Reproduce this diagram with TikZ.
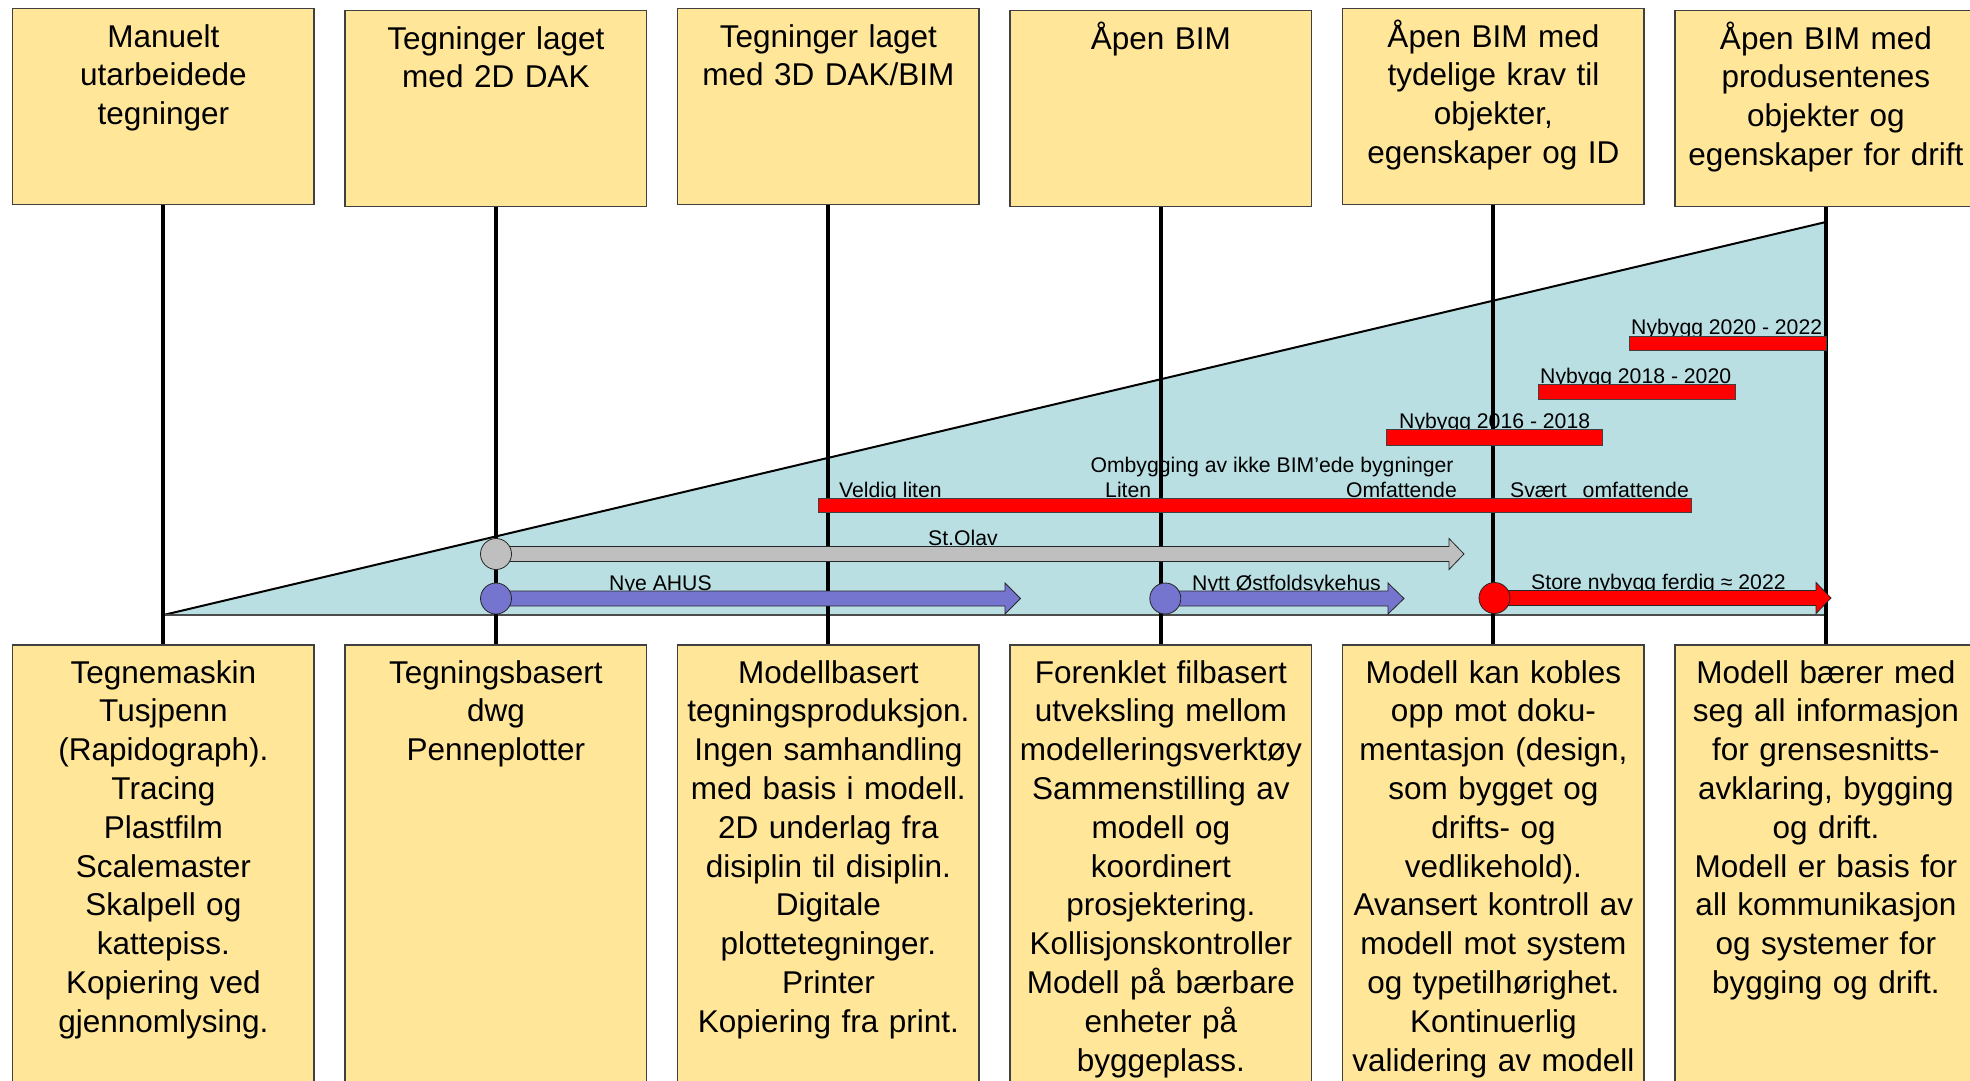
\documentclass[tikz,border=0pt]{standalone}
\usepackage{fontspec}
\setmainfont{Liberation Sans}
\definecolor{boxfill}{HTML}{FFE699}
\definecolor{boxline}{HTML}{404040}
\definecolor{trifill}{HTML}{BADFE3}
\definecolor{bluearr}{HTML}{7575CF}
\definecolor{grayarr}{HTML}{BFBFBF}
\newcommand{\blockarr}[5]{%
  \filldraw[fill=#1, draw=black!85, line width=0.8pt]
    (#2,#3-7.5) -- (#4,#3-7.5) -- (#4,#3-15.5) -- (#5,#3) -- (#4,#3+15.5) -- (#4,#3+7.5) -- (#2,#3+7.5) -- cycle;}
\begin{document}
\begin{tikzpicture}[x=1pt,y=-1pt,
  topbox/.style={draw=boxline, fill=boxfill, line width=1.5pt, minimum width=301.5pt, minimum height=196pt, inner sep=0pt},
  botbox/.style={draw=boxline, fill=boxfill, line width=1.5pt, minimum width=301.5pt, minimum height=500pt, inner sep=0pt},
  bigtxt/.style={font=\fontsize{31.5}{38.8}\selectfont, text width=300pt, align=center, inner sep=0pt, anchor=base},
  lbl/.style={font=\fontsize{21.2}{24}\selectfont, inner sep=0pt, anchor=base west},
  vline/.style={line width=4pt},
  bar/.style={fill=red, draw=black!75, line width=0.8pt},
  circ/.style={circle, minimum size=31pt, inner sep=0pt, draw=black!85, line width=0.8pt}]
\useasboundingbox (0,0) rectangle (1970,1080);
\clip (0,0) rectangle (1970,1080);

% top boxes
\node[topbox] (t1) at (163.4,106.5) {};
\node[topbox] (t2) at (495.9,108.5) {};
\node[topbox] (t3) at (828.4,106.5) {};
\node[topbox] (t4) at (1160.9,108.5) {};
\node[topbox] (t5) at (1493.4,106.5) {};
\node[topbox] (t6) at (1825.9,108.5) {};
% bottom boxes
\node[botbox] (b1) at (163.4,895) {};
\node[botbox] (b2) at (495.9,895) {};
\node[botbox] (b3) at (828.4,895) {};
\node[botbox] (b4) at (1160.9,895) {};
\node[botbox] (b5) at (1493.4,895) {};
\node[botbox] (b6) at (1825.9,895) {};

% top texts
\node[bigtxt] (tt1) at (163.4,47) {Manuelt\\utarbeidede\\tegninger};
\node[bigtxt] (tt2) at (495.9,49) {Tegninger laget\\med 2D DAK};
\node[bigtxt] (tt3) at (828.4,47) {Tegninger laget\\med 3D DAK/BIM};
\node[bigtxt] (tt4) at (1160.9,49) {Åpen BIM};
\node[bigtxt] (tt5) at (1493.4,47) {Åpen BIM med\\tydelige krav til\\objekter,\\egenskaper og ID};
\node[bigtxt] (tt6) at (1825.9,49) {Åpen BIM med\\produsentenes\\objekter og\\egenskaper for drift};

% bottom texts
\node[bigtxt] (bt1) at (163.4,683) {Tegnemaskin\\Tusjpenn\\(Rapidograph).\\Tracing\\Plastfilm\\Scalemaster\\Skalpell og\\kattepiss.\\Kopiering ved\\gjennomlysing.};
\node[bigtxt] (bt2) at (495.9,683) {Tegningsbasert\\dwg\\Penneplotter};
\node[bigtxt] (bt3) at (828.4,683) {Modellbasert\\tegningsproduksjon.\\Ingen samhandling\\med basis i modell.\\2D underlag fra\\disiplin til disiplin.\\Digitale\\plottetegninger.\\Printer\\Kopiering fra print.};
\node[bigtxt] (bt4) at (1160.9,683) {Forenklet filbasert\\utveksling mellom\\modelleringsverktøy\\Sammenstilling av\\modell og\\koordinert\\prosjektering.\\Kollisjonskontroller\\Modell på bærbare\\enheter på\\byggeplass.};
\node[bigtxt] (bt5) at (1493.4,683) {Modell kan kobles\\opp mot doku-\\mentasjon (design,\\som bygget og\\drifts- og\\vedlikehold).\\Avansert kontroll av\\modell mot system\\og typetilhørighet.\\Kontinuerlig\\validering av modell};
\node[bigtxt] (bt6) at (1825.9,683) {Modell bærer med\\seg all informasjon\\for grensesnitts-\\avklaring, bygging\\og drift.\\Modell er basis for\\all kommunikasjon\\og systemer for\\bygging og drift.};

% triangle
\coordinate (ta) at (163.4,615);
\coordinate (tb) at (1825.9,222);
\coordinate (tc) at (1825.9,615);
\fill[trifill] (ta) -- (tb) -- (tc) -- cycle;
\draw[line width=2pt] (ta) -- (tb);
\draw[line width=2pt, draw=black!70] (ta) -- (tc);

% vertical lines
\foreach \i in {1,...,6} { \draw[vline] (t\i.south) -- (b\i.north); }

% labels
\node[lbl] (l1) at (1631,334) {Nybygg 2020 - 2022};
\node[lbl] (l2) at (1540,383) {Nybygg 2018 - 2020};
\node[lbl] (l3) at (1399,428) {Nybygg 2016 - 2018};
\node[lbl, anchor=base] (l4) at (1272,472) {Ombygging av ikke BIM’ede bygninger};
\node[lbl] (l5) at (839,497) {Veldig liten};
\node[lbl] (l6) at (1105,497) {Liten};
\node[lbl, anchor=base east] (l7) at (1457,497) {Omfattende};
\node[lbl] (l8) at (1510,497) {Svært\hspace{16pt}omfattende};
\node[lbl] (l9) at (928,545) {St.Olav};
\node[lbl] (l10) at (609,590) {Nye AHUS};
\node[lbl] (l11) at (1192,590) {Nytt Østfoldsykehus};
\node[lbl] (l12) at (1531,589) {Store nybygg ferdig ≈ 2022};

% red bars
\draw[bar] (1629,336) rectangle (1826,350);
\draw[bar] (1538,384) rectangle (1735,399);
\draw[bar] (1386,429) rectangle (1602,445);
\draw[bar] (818,498) rectangle (1691,512);

% block arrows
\blockarr{grayarr}{496}{554}{1449}{1464}
\blockarr{bluearr}{496}{598.5}{1005}{1020.5}
\blockarr{bluearr}{1165.3}{598.5}{1388}{1404}
\blockarr{red}{1494.5}{598}{1816}{1831}

% circles
\node[circ, fill=grayarr] (c1) at (496,554) {};
\node[circ, fill=bluearr] (c2) at (496,598.5) {};
\node[circ, fill=bluearr] (c3) at (1165.3,598.5) {};
\node[circ, fill=red] (c4) at (1494.5,598) {};
\end{tikzpicture}
\end{document}
